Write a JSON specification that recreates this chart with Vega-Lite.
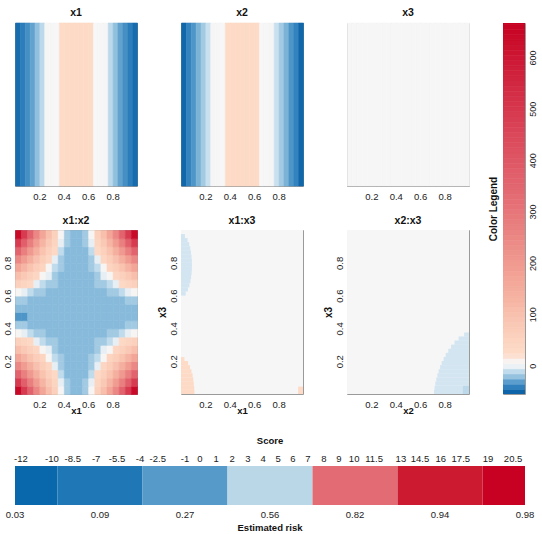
{
"$schema": "https://vega.github.io/schema/vega-lite/v6.json",
"padding": {"left": 1, "top": 7, "right": 0, "bottom": 0},
"background": "white",
"config": {
  "font": "Liberation Sans",
  "view": {"stroke": "#9a9a9a", "strokeWidth": 1},
  "rect": {"binSpacing": 0},
  "axis": {"labelFont": "Liberation Sans", "labelFontSize": 9.5, "labelColor": "#222", "titleFont": "Liberation Sans", "titleColor": "#111", "grid": false, "domain": false, "ticks": false, "tickSize": 0},
  "title": {"font": "Liberation Sans", "fontSize": 10.5, "fontWeight": "bold", "color": "#111", "offset": 4, "anchor": "middle"}
},
"datasets": {
  "m1": [{"x":0,"v":-52},{"x":0.04,"v":-46},{"x":0.08,"v":-40},{"x":0.12,"v":-34},{"x":0.16,"v":-26},{"x":0.2,"v":-16},{"x":0.24,"v":-2},{"x":0.28,"v":0},{"x":0.32,"v":3},{"x":0.36,"v":20},{"x":0.4,"v":23},{"x":0.44,"v":24},{"x":0.48,"v":25},{"x":0.52,"v":24},{"x":0.56,"v":23},{"x":0.6,"v":20},{"x":0.64,"v":3},{"x":0.68,"v":0},{"x":0.72,"v":-2},{"x":0.76,"v":-16},{"x":0.8,"v":-26},{"x":0.84,"v":-34},{"x":0.88,"v":-40},{"x":0.92,"v":-46},{"x":0.96,"v":-52}],
  "m2": [{"x":0,"v":-54},{"x":0.04,"v":-44},{"x":0.08,"v":-38},{"x":0.12,"v":-30},{"x":0.16,"v":-22},{"x":0.2,"v":-13},{"x":0.24,"v":-2},{"x":0.28,"v":0},{"x":0.32,"v":3},{"x":0.36,"v":20},{"x":0.4,"v":23},{"x":0.44,"v":24},{"x":0.48,"v":25},{"x":0.52,"v":24},{"x":0.56,"v":23},{"x":0.6,"v":20},{"x":0.64,"v":3},{"x":0.68,"v":0},{"x":0.72,"v":-2},{"x":0.76,"v":-13},{"x":0.8,"v":-22},{"x":0.84,"v":-30},{"x":0.88,"v":-38},{"x":0.92,"v":-44},{"x":0.96,"v":-54}],
  "m3": [{"x":0,"v":0},{"x":0.04,"v":0},{"x":0.08,"v":0},{"x":0.12,"v":0},{"x":0.16,"v":0},{"x":0.2,"v":0},{"x":0.24,"v":0},{"x":0.28,"v":0},{"x":0.32,"v":0},{"x":0.36,"v":0},{"x":0.4,"v":0},{"x":0.44,"v":0},{"x":0.48,"v":0},{"x":0.52,"v":0},{"x":0.56,"v":0},{"x":0.6,"v":0},{"x":0.64,"v":0},{"x":0.68,"v":0},{"x":0.72,"v":0},{"x":0.76,"v":0},{"x":0.8,"v":0},{"x":0.84,"v":0},{"x":0.88,"v":0},{"x":0.92,"v":0},{"x":0.96,"v":0}],
  "i12": [
{"x":0,"y":0,"v":640},{"x":0.05,"y":0,"v":485},{"x":0.1,"y":0,"v":354},{"x":0.15,"y":0,"v":248},{"x":0.2,"y":0,"v":163},{"x":0.25,"y":0,"v":99},{"x":0.3,"y":0,"v":53},{"x":0.35,"y":0,"v":4},{"x":0.4,"y":0,"v":-22},{"x":0.45,"y":0,"v":-28},{"x":0.5,"y":0,"v":-28},{"x":0.55,"y":0,"v":-22},{"x":0.6,"y":0,"v":4},{"x":0.65,"y":0,"v":53},{"x":0.7,"y":0,"v":99},{"x":0.75,"y":0,"v":163},{"x":0.8,"y":0,"v":248},{"x":0.85,"y":0,"v":354},{"x":0.9,"y":0,"v":485},{"x":0.95,"y":0,"v":640},
{"x":0,"y":0.05,"v":485},{"x":0.05,"y":0.05,"v":367},{"x":0.1,"y":0.05,"v":269},{"x":0.15,"y":0.05,"v":188},{"x":0.2,"y":0.05,"v":124},{"x":0.25,"y":0.05,"v":75},{"x":0.3,"y":0.05,"v":40},{"x":0.35,"y":0.05,"v":-6},{"x":0.4,"y":0.05,"v":-22},{"x":0.45,"y":0.05,"v":-28},{"x":0.5,"y":0.05,"v":-28},{"x":0.55,"y":0.05,"v":-22},{"x":0.6,"y":0.05,"v":-6},{"x":0.65,"y":0.05,"v":40},{"x":0.7,"y":0.05,"v":75},{"x":0.75,"y":0.05,"v":124},{"x":0.8,"y":0.05,"v":188},{"x":0.85,"y":0.05,"v":269},{"x":0.9,"y":0.05,"v":367},{"x":0.95,"y":0.05,"v":485},
{"x":0,"y":0.1,"v":354},{"x":0.05,"y":0.1,"v":269},{"x":0.1,"y":0.1,"v":196},{"x":0.15,"y":0.1,"v":137},{"x":0.2,"y":0.1,"v":90},{"x":0.25,"y":0.1,"v":55},{"x":0.3,"y":0.1,"v":29},{"x":0.35,"y":0.1,"v":-15},{"x":0.4,"y":0.1,"v":-28},{"x":0.45,"y":0.1,"v":-28},{"x":0.5,"y":0.1,"v":-28},{"x":0.55,"y":0.1,"v":-28},{"x":0.6,"y":0.1,"v":-15},{"x":0.65,"y":0.1,"v":29},{"x":0.7,"y":0.1,"v":55},{"x":0.75,"y":0.1,"v":90},{"x":0.8,"y":0.1,"v":137},{"x":0.85,"y":0.1,"v":196},{"x":0.9,"y":0.1,"v":269},{"x":0.95,"y":0.1,"v":354},
{"x":0,"y":0.15,"v":248},{"x":0.05,"y":0.15,"v":188},{"x":0.1,"y":0.15,"v":137},{"x":0.15,"y":0.15,"v":96},{"x":0.2,"y":0.15,"v":63},{"x":0.25,"y":0.15,"v":38},{"x":0.3,"y":0.15,"v":-6},{"x":0.35,"y":0.15,"v":-22},{"x":0.4,"y":0.15,"v":-28},{"x":0.45,"y":0.15,"v":-28},{"x":0.5,"y":0.15,"v":-28},{"x":0.55,"y":0.15,"v":-28},{"x":0.6,"y":0.15,"v":-22},{"x":0.65,"y":0.15,"v":-6},{"x":0.7,"y":0.15,"v":38},{"x":0.75,"y":0.15,"v":63},{"x":0.8,"y":0.15,"v":96},{"x":0.85,"y":0.15,"v":137},{"x":0.9,"y":0.15,"v":188},{"x":0.95,"y":0.15,"v":248},
{"x":0,"y":0.2,"v":163},{"x":0.05,"y":0.2,"v":124},{"x":0.1,"y":0.2,"v":90},{"x":0.15,"y":0.2,"v":63},{"x":0.2,"y":0.2,"v":42},{"x":0.25,"y":0.2,"v":4},{"x":0.3,"y":0.2,"v":-15},{"x":0.35,"y":0.2,"v":-22},{"x":0.4,"y":0.2,"v":-28},{"x":0.45,"y":0.2,"v":-28},{"x":0.5,"y":0.2,"v":-28},{"x":0.55,"y":0.2,"v":-28},{"x":0.6,"y":0.2,"v":-22},{"x":0.65,"y":0.2,"v":-15},{"x":0.7,"y":0.2,"v":4},{"x":0.75,"y":0.2,"v":42},{"x":0.8,"y":0.2,"v":63},{"x":0.85,"y":0.2,"v":90},{"x":0.9,"y":0.2,"v":124},{"x":0.95,"y":0.2,"v":163},
{"x":0,"y":0.25,"v":99},{"x":0.05,"y":0.25,"v":75},{"x":0.1,"y":0.25,"v":55},{"x":0.15,"y":0.25,"v":38},{"x":0.2,"y":0.25,"v":4},{"x":0.25,"y":0.25,"v":-6},{"x":0.3,"y":0.25,"v":-22},{"x":0.35,"y":0.25,"v":-28},{"x":0.4,"y":0.25,"v":-28},{"x":0.45,"y":0.25,"v":-28},{"x":0.5,"y":0.25,"v":-28},{"x":0.55,"y":0.25,"v":-28},{"x":0.6,"y":0.25,"v":-28},{"x":0.65,"y":0.25,"v":-22},{"x":0.7,"y":0.25,"v":-6},{"x":0.75,"y":0.25,"v":4},{"x":0.8,"y":0.25,"v":38},{"x":0.85,"y":0.25,"v":55},{"x":0.9,"y":0.25,"v":75},{"x":0.95,"y":0.25,"v":99},
{"x":0,"y":0.3,"v":53},{"x":0.05,"y":0.3,"v":40},{"x":0.1,"y":0.3,"v":29},{"x":0.15,"y":0.3,"v":-6},{"x":0.2,"y":0.3,"v":-15},{"x":0.25,"y":0.3,"v":-22},{"x":0.3,"y":0.3,"v":-22},{"x":0.35,"y":0.3,"v":-28},{"x":0.4,"y":0.3,"v":-28},{"x":0.45,"y":0.3,"v":-28},{"x":0.5,"y":0.3,"v":-28},{"x":0.55,"y":0.3,"v":-28},{"x":0.6,"y":0.3,"v":-28},{"x":0.65,"y":0.3,"v":-22},{"x":0.7,"y":0.3,"v":-22},{"x":0.75,"y":0.3,"v":-15},{"x":0.8,"y":0.3,"v":-6},{"x":0.85,"y":0.3,"v":29},{"x":0.9,"y":0.3,"v":40},{"x":0.95,"y":0.3,"v":53},
{"x":0,"y":0.35,"v":4},{"x":0.05,"y":0.35,"v":-6},{"x":0.1,"y":0.35,"v":-15},{"x":0.15,"y":0.35,"v":-22},{"x":0.2,"y":0.35,"v":-22},{"x":0.25,"y":0.35,"v":-28},{"x":0.3,"y":0.35,"v":-28},{"x":0.35,"y":0.35,"v":-28},{"x":0.4,"y":0.35,"v":-28},{"x":0.45,"y":0.35,"v":-28},{"x":0.5,"y":0.35,"v":-28},{"x":0.55,"y":0.35,"v":-28},{"x":0.6,"y":0.35,"v":-28},{"x":0.65,"y":0.35,"v":-28},{"x":0.7,"y":0.35,"v":-28},{"x":0.75,"y":0.35,"v":-22},{"x":0.8,"y":0.35,"v":-22},{"x":0.85,"y":0.35,"v":-15},{"x":0.9,"y":0.35,"v":-6},{"x":0.95,"y":0.35,"v":4},
{"x":0,"y":0.4,"v":-22},{"x":0.05,"y":0.4,"v":-22},{"x":0.1,"y":0.4,"v":-28},{"x":0.15,"y":0.4,"v":-28},{"x":0.2,"y":0.4,"v":-28},{"x":0.25,"y":0.4,"v":-28},{"x":0.3,"y":0.4,"v":-28},{"x":0.35,"y":0.4,"v":-28},{"x":0.4,"y":0.4,"v":-28},{"x":0.45,"y":0.4,"v":-28},{"x":0.5,"y":0.4,"v":-28},{"x":0.55,"y":0.4,"v":-28},{"x":0.6,"y":0.4,"v":-28},{"x":0.65,"y":0.4,"v":-28},{"x":0.7,"y":0.4,"v":-28},{"x":0.75,"y":0.4,"v":-28},{"x":0.8,"y":0.4,"v":-28},{"x":0.85,"y":0.4,"v":-28},{"x":0.9,"y":0.4,"v":-22},{"x":0.95,"y":0.4,"v":-22},
{"x":0,"y":0.45,"v":-38},{"x":0.05,"y":0.45,"v":-38},{"x":0.1,"y":0.45,"v":-28},{"x":0.15,"y":0.45,"v":-28},{"x":0.2,"y":0.45,"v":-28},{"x":0.25,"y":0.45,"v":-28},{"x":0.3,"y":0.45,"v":-28},{"x":0.35,"y":0.45,"v":-28},{"x":0.4,"y":0.45,"v":-28},{"x":0.45,"y":0.45,"v":-28},{"x":0.5,"y":0.45,"v":-28},{"x":0.55,"y":0.45,"v":-28},{"x":0.6,"y":0.45,"v":-28},{"x":0.65,"y":0.45,"v":-28},{"x":0.7,"y":0.45,"v":-28},{"x":0.75,"y":0.45,"v":-28},{"x":0.8,"y":0.45,"v":-28},{"x":0.85,"y":0.45,"v":-28},{"x":0.9,"y":0.45,"v":-28},{"x":0.95,"y":0.45,"v":-28},
{"x":0,"y":0.5,"v":-28},{"x":0.05,"y":0.5,"v":-28},{"x":0.1,"y":0.5,"v":-28},{"x":0.15,"y":0.5,"v":-28},{"x":0.2,"y":0.5,"v":-28},{"x":0.25,"y":0.5,"v":-28},{"x":0.3,"y":0.5,"v":-28},{"x":0.35,"y":0.5,"v":-28},{"x":0.4,"y":0.5,"v":-28},{"x":0.45,"y":0.5,"v":-28},{"x":0.5,"y":0.5,"v":-28},{"x":0.55,"y":0.5,"v":-28},{"x":0.6,"y":0.5,"v":-28},{"x":0.65,"y":0.5,"v":-28},{"x":0.7,"y":0.5,"v":-28},{"x":0.75,"y":0.5,"v":-28},{"x":0.8,"y":0.5,"v":-28},{"x":0.85,"y":0.5,"v":-28},{"x":0.9,"y":0.5,"v":-28},{"x":0.95,"y":0.5,"v":-28},
{"x":0,"y":0.55,"v":-22},{"x":0.05,"y":0.55,"v":-22},{"x":0.1,"y":0.55,"v":-28},{"x":0.15,"y":0.55,"v":-28},{"x":0.2,"y":0.55,"v":-28},{"x":0.25,"y":0.55,"v":-28},{"x":0.3,"y":0.55,"v":-28},{"x":0.35,"y":0.55,"v":-28},{"x":0.4,"y":0.55,"v":-28},{"x":0.45,"y":0.55,"v":-28},{"x":0.5,"y":0.55,"v":-28},{"x":0.55,"y":0.55,"v":-28},{"x":0.6,"y":0.55,"v":-28},{"x":0.65,"y":0.55,"v":-28},{"x":0.7,"y":0.55,"v":-28},{"x":0.75,"y":0.55,"v":-28},{"x":0.8,"y":0.55,"v":-28},{"x":0.85,"y":0.55,"v":-28},{"x":0.9,"y":0.55,"v":-22},{"x":0.95,"y":0.55,"v":-22},
{"x":0,"y":0.6,"v":4},{"x":0.05,"y":0.6,"v":-6},{"x":0.1,"y":0.6,"v":-15},{"x":0.15,"y":0.6,"v":-22},{"x":0.2,"y":0.6,"v":-22},{"x":0.25,"y":0.6,"v":-28},{"x":0.3,"y":0.6,"v":-28},{"x":0.35,"y":0.6,"v":-28},{"x":0.4,"y":0.6,"v":-28},{"x":0.45,"y":0.6,"v":-28},{"x":0.5,"y":0.6,"v":-28},{"x":0.55,"y":0.6,"v":-28},{"x":0.6,"y":0.6,"v":-28},{"x":0.65,"y":0.6,"v":-28},{"x":0.7,"y":0.6,"v":-28},{"x":0.75,"y":0.6,"v":-22},{"x":0.8,"y":0.6,"v":-22},{"x":0.85,"y":0.6,"v":-15},{"x":0.9,"y":0.6,"v":-6},{"x":0.95,"y":0.6,"v":4},
{"x":0,"y":0.65,"v":53},{"x":0.05,"y":0.65,"v":40},{"x":0.1,"y":0.65,"v":29},{"x":0.15,"y":0.65,"v":-6},{"x":0.2,"y":0.65,"v":-15},{"x":0.25,"y":0.65,"v":-22},{"x":0.3,"y":0.65,"v":-22},{"x":0.35,"y":0.65,"v":-28},{"x":0.4,"y":0.65,"v":-28},{"x":0.45,"y":0.65,"v":-28},{"x":0.5,"y":0.65,"v":-28},{"x":0.55,"y":0.65,"v":-28},{"x":0.6,"y":0.65,"v":-28},{"x":0.65,"y":0.65,"v":-22},{"x":0.7,"y":0.65,"v":-22},{"x":0.75,"y":0.65,"v":-15},{"x":0.8,"y":0.65,"v":-6},{"x":0.85,"y":0.65,"v":29},{"x":0.9,"y":0.65,"v":40},{"x":0.95,"y":0.65,"v":53},
{"x":0,"y":0.7,"v":99},{"x":0.05,"y":0.7,"v":75},{"x":0.1,"y":0.7,"v":55},{"x":0.15,"y":0.7,"v":38},{"x":0.2,"y":0.7,"v":4},{"x":0.25,"y":0.7,"v":-6},{"x":0.3,"y":0.7,"v":-22},{"x":0.35,"y":0.7,"v":-28},{"x":0.4,"y":0.7,"v":-28},{"x":0.45,"y":0.7,"v":-28},{"x":0.5,"y":0.7,"v":-28},{"x":0.55,"y":0.7,"v":-28},{"x":0.6,"y":0.7,"v":-28},{"x":0.65,"y":0.7,"v":-22},{"x":0.7,"y":0.7,"v":-6},{"x":0.75,"y":0.7,"v":4},{"x":0.8,"y":0.7,"v":38},{"x":0.85,"y":0.7,"v":55},{"x":0.9,"y":0.7,"v":75},{"x":0.95,"y":0.7,"v":99},
{"x":0,"y":0.75,"v":163},{"x":0.05,"y":0.75,"v":124},{"x":0.1,"y":0.75,"v":90},{"x":0.15,"y":0.75,"v":63},{"x":0.2,"y":0.75,"v":42},{"x":0.25,"y":0.75,"v":4},{"x":0.3,"y":0.75,"v":-15},{"x":0.35,"y":0.75,"v":-22},{"x":0.4,"y":0.75,"v":-28},{"x":0.45,"y":0.75,"v":-28},{"x":0.5,"y":0.75,"v":-28},{"x":0.55,"y":0.75,"v":-28},{"x":0.6,"y":0.75,"v":-22},{"x":0.65,"y":0.75,"v":-15},{"x":0.7,"y":0.75,"v":4},{"x":0.75,"y":0.75,"v":42},{"x":0.8,"y":0.75,"v":63},{"x":0.85,"y":0.75,"v":90},{"x":0.9,"y":0.75,"v":124},{"x":0.95,"y":0.75,"v":163},
{"x":0,"y":0.8,"v":248},{"x":0.05,"y":0.8,"v":188},{"x":0.1,"y":0.8,"v":137},{"x":0.15,"y":0.8,"v":96},{"x":0.2,"y":0.8,"v":63},{"x":0.25,"y":0.8,"v":38},{"x":0.3,"y":0.8,"v":-6},{"x":0.35,"y":0.8,"v":-22},{"x":0.4,"y":0.8,"v":-28},{"x":0.45,"y":0.8,"v":-28},{"x":0.5,"y":0.8,"v":-28},{"x":0.55,"y":0.8,"v":-28},{"x":0.6,"y":0.8,"v":-22},{"x":0.65,"y":0.8,"v":-6},{"x":0.7,"y":0.8,"v":38},{"x":0.75,"y":0.8,"v":63},{"x":0.8,"y":0.8,"v":96},{"x":0.85,"y":0.8,"v":137},{"x":0.9,"y":0.8,"v":188},{"x":0.95,"y":0.8,"v":248},
{"x":0,"y":0.85,"v":354},{"x":0.05,"y":0.85,"v":269},{"x":0.1,"y":0.85,"v":196},{"x":0.15,"y":0.85,"v":137},{"x":0.2,"y":0.85,"v":90},{"x":0.25,"y":0.85,"v":55},{"x":0.3,"y":0.85,"v":29},{"x":0.35,"y":0.85,"v":-15},{"x":0.4,"y":0.85,"v":-28},{"x":0.45,"y":0.85,"v":-28},{"x":0.5,"y":0.85,"v":-28},{"x":0.55,"y":0.85,"v":-28},{"x":0.6,"y":0.85,"v":-15},{"x":0.65,"y":0.85,"v":29},{"x":0.7,"y":0.85,"v":55},{"x":0.75,"y":0.85,"v":90},{"x":0.8,"y":0.85,"v":137},{"x":0.85,"y":0.85,"v":196},{"x":0.9,"y":0.85,"v":269},{"x":0.95,"y":0.85,"v":354},
{"x":0,"y":0.9,"v":485},{"x":0.05,"y":0.9,"v":367},{"x":0.1,"y":0.9,"v":269},{"x":0.15,"y":0.9,"v":188},{"x":0.2,"y":0.9,"v":124},{"x":0.25,"y":0.9,"v":75},{"x":0.3,"y":0.9,"v":40},{"x":0.35,"y":0.9,"v":-6},{"x":0.4,"y":0.9,"v":-22},{"x":0.45,"y":0.9,"v":-28},{"x":0.5,"y":0.9,"v":-28},{"x":0.55,"y":0.9,"v":-22},{"x":0.6,"y":0.9,"v":-6},{"x":0.65,"y":0.9,"v":40},{"x":0.7,"y":0.9,"v":75},{"x":0.75,"y":0.9,"v":124},{"x":0.8,"y":0.9,"v":188},{"x":0.85,"y":0.9,"v":269},{"x":0.9,"y":0.9,"v":367},{"x":0.95,"y":0.9,"v":485},
{"x":0,"y":0.95,"v":640},{"x":0.05,"y":0.95,"v":485},{"x":0.1,"y":0.95,"v":354},{"x":0.15,"y":0.95,"v":248},{"x":0.2,"y":0.95,"v":163},{"x":0.25,"y":0.95,"v":99},{"x":0.3,"y":0.95,"v":53},{"x":0.35,"y":0.95,"v":4},{"x":0.4,"y":0.95,"v":-22},{"x":0.45,"y":0.95,"v":-28},{"x":0.5,"y":0.95,"v":-28},{"x":0.55,"y":0.95,"v":-22},{"x":0.6,"y":0.95,"v":4},{"x":0.65,"y":0.95,"v":53},{"x":0.7,"y":0.95,"v":99},{"x":0.75,"y":0.95,"v":163},{"x":0.8,"y":0.95,"v":248},{"x":0.85,"y":0.95,"v":354},{"x":0.9,"y":0.95,"v":485},{"x":0.95,"y":0.95,"v":640}
  ],
  "i13": [
{"x0":0,"x1":1,"y0":0,"y1":1,"v":0},
{"x0":0,"x1":0.038,"y0":0.6,"y1":0.626,"v":-11},{"x0":0,"x1":0.057,"y0":0.625,"y1":0.651,"v":-11},{"x0":0,"x1":0.069,"y0":0.65,"y1":0.676,"v":-11},{"x0":0,"x1":0.077,"y0":0.675,"y1":0.701,"v":-11},{"x0":0,"x1":0.083,"y0":0.7,"y1":0.726,"v":-11},{"x0":0,"x1":0.087,"y0":0.725,"y1":0.751,"v":-11},{"x0":0,"x1":0.089,"y0":0.75,"y1":0.776,"v":-11},{"x0":0,"x1":0.09,"y0":0.775,"y1":0.801,"v":-11},{"x0":0,"x1":0.089,"y0":0.8,"y1":0.826,"v":-11},{"x0":0,"x1":0.086,"y0":0.825,"y1":0.851,"v":-11},{"x0":0,"x1":0.082,"y0":0.85,"y1":0.876,"v":-11},{"x0":0,"x1":0.076,"y0":0.875,"y1":0.901,"v":-11},{"x0":0,"x1":0.067,"y0":0.9,"y1":0.926,"v":-11},{"x0":0,"x1":0.054,"y0":0.925,"y1":0.951,"v":-11},{"x0":0,"x1":0.032,"y0":0.95,"y1":0.975,"v":-11},
{"x0":0,"x1":0.11,"y0":0,"y1":0.026,"v":24},{"x0":0,"x1":0.108,"y0":0.025,"y1":0.051,"v":23},{"x0":0,"x1":0.105,"y0":0.05,"y1":0.076,"v":22},{"x0":0,"x1":0.101,"y0":0.075,"y1":0.101,"v":22},{"x0":0,"x1":0.095,"y0":0.1,"y1":0.126,"v":22},{"x0":0,"x1":0.086,"y0":0.125,"y1":0.151,"v":21},{"x0":0,"x1":0.074,"y0":0.15,"y1":0.176,"v":20},{"x0":0,"x1":0.058,"y0":0.175,"y1":0.201,"v":20},{"x0":0,"x1":0.028,"y0":0.2,"y1":0.225,"v":19},
{"x0":0.96,"x1":1,"y0":0,"y1":0.045,"v":21}
  ],
  "i23": [
{"x0":0,"x1":1,"y0":0,"y1":1,"v":0},
{"x0":0.713,"x1":1,"y0":0,"y1":0.026,"v":-11},{"x0":0.718,"x1":1,"y0":0.025,"y1":0.051,"v":-11},{"x0":0.724,"x1":1,"y0":0.05,"y1":0.076,"v":-11},{"x0":0.732,"x1":1,"y0":0.075,"y1":0.101,"v":-11},{"x0":0.741,"x1":1,"y0":0.1,"y1":0.126,"v":-11},{"x0":0.751,"x1":1,"y0":0.125,"y1":0.151,"v":-11},{"x0":0.763,"x1":1,"y0":0.15,"y1":0.176,"v":-11},{"x0":0.776,"x1":1,"y0":0.175,"y1":0.201,"v":-11},{"x0":0.792,"x1":1,"y0":0.2,"y1":0.226,"v":-11},{"x0":0.809,"x1":1,"y0":0.225,"y1":0.251,"v":-11},{"x0":0.83,"x1":1,"y0":0.25,"y1":0.276,"v":-11},{"x0":0.853,"x1":1,"y0":0.275,"y1":0.301,"v":-11},{"x0":0.881,"x1":1,"y0":0.3,"y1":0.326,"v":-11},{"x0":0.915,"x1":1,"y0":0.325,"y1":0.351,"v":-11},{"x0":0.96,"x1":1,"y0":0.35,"y1":0.375,"v":-11},
{"x0":0.95,"x1":1,"y0":0,"y1":0.05,"v":-16}
  ],
  "leg": [{"v":-55},{"v":-45},{"v":-35},{"v":-25},{"v":-15},{"v":-5},{"v":5},{"v":15},{"v":25},{"v":35},{"v":45},{"v":55},{"v":65},{"v":75},{"v":85},{"v":95},{"v":105},{"v":115},{"v":125},{"v":135},{"v":145},{"v":155},{"v":165},{"v":175},{"v":185},{"v":195},{"v":205},{"v":215},{"v":225},{"v":235},{"v":245},{"v":255},{"v":265},{"v":275},{"v":285},{"v":295},{"v":305},{"v":315},{"v":325},{"v":335},{"v":345},{"v":355},{"v":365},{"v":375},{"v":385},{"v":395},{"v":405},{"v":415},{"v":425},{"v":435},{"v":445},{"v":455},{"v":465},{"v":475},{"v":485},{"v":495},{"v":505},{"v":515},{"v":525},{"v":535},{"v":545},{"v":555},{"v":565},{"v":575},{"v":585},{"v":595},{"v":605},{"v":615},{"v":625},{"v":635},{"v":645},{"v":655},{"v":665}],
  "band": [{"k":1,"t0":0,"t1":1},{"k":2,"t0":1,"t1":3},{"k":3,"t0":3,"t1":5},{"k":4,"t0":5,"t1":7},{"k":5,"t0":7,"t1":9},{"k":6,"t0":9,"t1":11},{"k":7,"t0":11,"t1":12}],
  "score": [{"s":"-12","t":0.14},{"s":"-10","t":0.87},{"s":"-8.5","t":1.36},{"s":"-7","t":1.91},{"s":"-5.5","t":2.4},{"s":"-4","t":2.94},{"s":"-2.5","t":3.36},{"s":"-1","t":4.0},{"s":"0","t":4.35},{"s":"1","t":4.73},{"s":"2","t":5.11},{"s":"3","t":5.48},{"s":"4","t":5.84},{"s":"5","t":6.19},{"s":"6","t":6.54},{"s":"7","t":6.89},{"s":"8","t":7.27},{"s":"9","t":7.62},{"s":"10","t":7.98},{"s":"11.5","t":8.45},{"s":"13","t":9.08},{"s":"14.5","t":9.53},{"s":"16","t":10.02},{"s":"17.5","t":10.49},{"s":"19","t":11.13},{"s":"20.5","t":11.72}],
  "risk": [{"r":"0.03","t":0},{"r":"0.09","t":2},{"r":"0.27","t":4},{"r":"0.56","t":6},{"r":"0.82","t":8},{"r":"0.94","t":10},{"r":"0.98","t":12}]
},
"vconcat": [
  {
    "hconcat": [
      {
        "vconcat": [
          {
            "hconcat": [
              {"width":122,"height":163,"title":"x1","data":{"name":"m1"},"mark":{"type":"rect","binSpacing":0,"strokeWidth":0.6},
               "encoding":{"x":{"field":"x","type":"quantitative","bin":{"binned":true,"step":0.04},"scale":{"domain":[0,1],"nice":false,"zero":false},"axis":{"values":[0.2,0.4,0.6,0.8],"format":".1f","labelPadding":5,"title":null}},
                 "color":{"field":"v","type":"quantitative","scale":{"type":"linear","domain":[-55,-45,-35,-28,-18,-10,-3,3,12,20,60,150,300,450,667],"range":["#0d64a8","#2f80bd","#5b9ecd","#88bbdb","#b3d4e9","#d6e7f2","#f4f5f6","#f7f7f7","#fbe5da","#fddbc7","#fbcfbb","#f4aa9a","#e67478","#da4659","#c60021"],"interpolate":"rgb","clamp":true},"legend":null},
                 "stroke":{"field":"v","type":"quantitative","scale":{"type":"linear","domain":[-55,-45,-35,-28,-18,-10,-3,3,12,20,60,150,300,450,667],"range":["#0d64a8","#2f80bd","#5b9ecd","#88bbdb","#b3d4e9","#d6e7f2","#f4f5f6","#f7f7f7","#fbe5da","#fddbc7","#fbcfbb","#f4aa9a","#e67478","#da4659","#c60021"],"interpolate":"rgb","clamp":true},"legend":null}}},
              {"width":122,"height":163,"title":"x2","data":{"name":"m2"},"mark":{"type":"rect","binSpacing":0,"strokeWidth":0.6},
               "encoding":{"x":{"field":"x","type":"quantitative","bin":{"binned":true,"step":0.04},"scale":{"domain":[0,1],"nice":false,"zero":false},"axis":{"values":[0.2,0.4,0.6,0.8],"format":".1f","labelPadding":5,"title":null}},
                 "color":{"field":"v","type":"quantitative","scale":{"type":"linear","domain":[-55,-45,-35,-28,-18,-10,-3,3,12,20,60,150,300,450,667],"range":["#0d64a8","#2f80bd","#5b9ecd","#88bbdb","#b3d4e9","#d6e7f2","#f4f5f6","#f7f7f7","#fbe5da","#fddbc7","#fbcfbb","#f4aa9a","#e67478","#da4659","#c60021"],"interpolate":"rgb","clamp":true},"legend":null},
                 "stroke":{"field":"v","type":"quantitative","scale":{"type":"linear","domain":[-55,-45,-35,-28,-18,-10,-3,3,12,20,60,150,300,450,667],"range":["#0d64a8","#2f80bd","#5b9ecd","#88bbdb","#b3d4e9","#d6e7f2","#f4f5f6","#f7f7f7","#fbe5da","#fddbc7","#fbcfbb","#f4aa9a","#e67478","#da4659","#c60021"],"interpolate":"rgb","clamp":true},"legend":null}}},
              {"width":122,"height":163,"title":"x3","data":{"name":"m3"},"mark":{"type":"rect","binSpacing":0,"strokeWidth":0.6},
               "encoding":{"x":{"field":"x","type":"quantitative","bin":{"binned":true,"step":0.04},"scale":{"domain":[0,1],"nice":false,"zero":false},"axis":{"values":[0.2,0.4,0.6,0.8],"format":".1f","labelPadding":5,"title":null}},
                 "color":{"field":"v","type":"quantitative","scale":{"type":"linear","domain":[-55,-45,-35,-28,-18,-10,-3,3,12,20,60,150,300,450,667],"range":["#0d64a8","#2f80bd","#5b9ecd","#88bbdb","#b3d4e9","#d6e7f2","#f4f5f6","#f7f7f7","#fbe5da","#fddbc7","#fbcfbb","#f4aa9a","#e67478","#da4659","#c60021"],"interpolate":"rgb","clamp":true},"legend":null},
                 "stroke":{"field":"v","type":"quantitative","scale":{"type":"linear","domain":[-55,-45,-35,-28,-18,-10,-3,3,12,20,60,150,300,450,667],"range":["#0d64a8","#2f80bd","#5b9ecd","#88bbdb","#b3d4e9","#d6e7f2","#f4f5f6","#f7f7f7","#fbe5da","#fddbc7","#fbcfbb","#f4aa9a","#e67478","#da4659","#c60021"],"interpolate":"rgb","clamp":true},"legend":null}}}
            ],
            "spacing": 44, "bounds": "flush", "resolve": {"scale": {"color": "independent", "stroke": "independent"}}
          },
          {
            "hconcat": [
              {"width":122,"height":164,"title":"x1:x2","data":{"name":"i12"},"mark":{"type":"rect","binSpacing":0,"strokeWidth":0.6},
               "encoding":{
                 "x":{"field":"x","type":"quantitative","bin":{"binned":true,"step":0.05},"scale":{"domain":[0,1],"nice":false,"zero":false},"axis":{"values":[0.2,0.4,0.6,0.8],"format":".1f","labelPadding":5,"title":"x1","titleY":11,"titleBaseline":"top","titleFontSize":9.5,"titleFontWeight":"bold"}},
                 "y":{"field":"y","type":"quantitative","bin":{"binned":true,"step":0.05},"scale":{"domain":[0,1],"nice":false,"zero":false},"axis":{"values":[0.2,0.4,0.6,0.8],"format":".1f","labelAngle":270,"labelAlign":"center","labelBaseline":"bottom","labelPadding":3,"title":null}},
                 "color":{"field":"v","type":"quantitative","scale":{"type":"linear","domain":[-55,-45,-35,-28,-18,-10,-3,3,12,20,60,150,300,450,667],"range":["#0d64a8","#2f80bd","#5b9ecd","#88bbdb","#b3d4e9","#d6e7f2","#f4f5f6","#f7f7f7","#fbe5da","#fddbc7","#fbcfbb","#f4aa9a","#e67478","#da4659","#c60021"],"interpolate":"rgb","clamp":true},"legend":null},
                 "stroke":{"field":"v","type":"quantitative","scale":{"type":"linear","domain":[-55,-45,-35,-28,-18,-10,-3,3,12,20,60,150,300,450,667],"range":["#0d64a8","#2f80bd","#5b9ecd","#88bbdb","#b3d4e9","#d6e7f2","#f4f5f6","#f7f7f7","#fbe5da","#fddbc7","#fbcfbb","#f4aa9a","#e67478","#da4659","#c60021"],"interpolate":"rgb","clamp":true},"legend":null}}},
              {"width":122,"height":164,"title":"x1:x3","data":{"name":"i13"},"mark":{"type":"rect"},
               "encoding":{
                 "x":{"field":"x0","type":"quantitative","scale":{"domain":[0,1],"nice":false,"zero":false},"axis":{"values":[0.2,0.4,0.6,0.8],"format":".1f","labelPadding":5,"title":"x1","titleY":11,"titleBaseline":"top","titleFontSize":9.5,"titleFontWeight":"bold"}},
                 "x2":{"field":"x1"},
                 "y":{"field":"y0","type":"quantitative","scale":{"domain":[0,1],"nice":false,"zero":false},"axis":{"values":[0.2,0.4,0.6,0.8],"format":".1f","labelAngle":270,"labelAlign":"center","labelBaseline":"bottom","labelPadding":3,"title":"x3","titlePadding":1,"titleFontSize":10,"titleFontWeight":"bold"}},
                 "y2":{"field":"y1"},
                 "color":{"field":"v","type":"quantitative","scale":{"type":"linear","domain":[-55,-45,-35,-28,-18,-10,-3,3,12,20,60,150,300,450,667],"range":["#0d64a8","#2f80bd","#5b9ecd","#88bbdb","#b3d4e9","#d6e7f2","#f4f5f6","#f7f7f7","#fbe5da","#fddbc7","#fbcfbb","#f4aa9a","#e67478","#da4659","#c60021"],"interpolate":"rgb","clamp":true},"legend":null}}},
              {"width":122,"height":164,"title":"x2:x3","data":{"name":"i23"},"mark":{"type":"rect"},
               "encoding":{
                 "x":{"field":"x0","type":"quantitative","scale":{"domain":[0,1],"nice":false,"zero":false},"axis":{"values":[0.2,0.4,0.6,0.8],"format":".1f","labelPadding":5,"title":"x2","titleY":11,"titleBaseline":"top","titleFontSize":9.5,"titleFontWeight":"bold"}},
                 "x2":{"field":"x1"},
                 "y":{"field":"y0","type":"quantitative","scale":{"domain":[0,1],"nice":false,"zero":false},"axis":{"values":[0.2,0.4,0.6,0.8],"format":".1f","labelAngle":270,"labelAlign":"center","labelBaseline":"bottom","labelPadding":3,"title":"x3","titlePadding":1,"titleFontSize":10,"titleFontWeight":"bold"}},
                 "y2":{"field":"y1"},
                 "color":{"field":"v","type":"quantitative","scale":{"type":"linear","domain":[-55,-45,-35,-28,-18,-10,-3,3,12,20,60,150,300,450,667],"range":["#0d64a8","#2f80bd","#5b9ecd","#88bbdb","#b3d4e9","#d6e7f2","#f4f5f6","#f7f7f7","#fbe5da","#fddbc7","#fbcfbb","#f4aa9a","#e67478","#da4659","#c60021"],"interpolate":"rgb","clamp":true},"legend":null}}}
            ],
            "spacing": 44, "bounds": "flush", "resolve": {"scale": {"color": "independent", "stroke": "independent"}}
          }
        ],
        "spacing": 207, "bounds": "flush", "resolve": {"scale": {"color": "independent", "stroke": "independent"}}
      },
      {"width":22,"height":371,"data":{"name":"leg"},"mark":{"type":"rect","clip":true,"binSpacing":0,"strokeWidth":0.6},
       "encoding":{
         "y":{"field":"v","type":"quantitative","bin":{"binned":true,"step":10},"scale":{"domain":[-55,667],"nice":false,"zero":false},
              "axis":{"orient":"right","values":[0,100,200,300,400,500,600],"format":"d","labelAngle":270,"labelAlign":"center","labelBaseline":"top","labelPadding":3,"labelFontSize":9,
                      "title":"Color Legend","titleAngle":270,"titleX":-27,"titleY":185.5,"titleAlign":"center","titleBaseline":"bottom","titleFontSize":10,"titleFontWeight":"bold"}},
         "color":{"field":"v","type":"quantitative","scale":{"type":"linear","domain":[-55,-45,-35,-28,-18,-10,-3,3,12,20,60,150,300,450,667],"range":["#0d64a8","#2f80bd","#5b9ecd","#88bbdb","#b3d4e9","#d6e7f2","#f4f5f6","#f7f7f7","#fbe5da","#fddbc7","#fbcfbb","#f4aa9a","#e67478","#da4659","#c60021"],"interpolate":"rgb","clamp":true},"legend":null},
         "stroke":{"field":"v","type":"quantitative","scale":{"type":"linear","domain":[-55,-45,-35,-28,-18,-10,-3,3,12,20,60,150,300,450,667],"range":["#0d64a8","#2f80bd","#5b9ecd","#88bbdb","#b3d4e9","#d6e7f2","#f4f5f6","#f7f7f7","#fbe5da","#fddbc7","#fbcfbb","#f4aa9a","#e67478","#da4659","#c60021"],"interpolate":"rgb","clamp":true},"legend":null}}}
    ],
    "spacing": 488, "bounds": "flush", "resolve": {"scale": {"color": "independent", "stroke": "independent"}}
  },
  {
    "vconcat": [
      {"width":510,"height":14,"view":{"stroke":null},"title":{"text":"Score","fontSize":9.5,"offset":7},"data":{"name":"score"},
       "mark":{"type":"text","fontSize":9.5,"font":"Liberation Sans","color":"#222","baseline":"middle"},
       "encoding":{"x":{"field":"t","type":"quantitative","scale":{"domain":[0,12],"nice":false,"zero":false},"axis":null},"text":{"field":"s"}}},
      {"width":510,"height":39,"view":{"stroke":null},"data":{"name":"band"},"mark":{"type":"rect"},
       "encoding":{"x":{"field":"t0","type":"quantitative","scale":{"domain":[0,12],"nice":false,"zero":false},"axis":null},"x2":{"field":"t1"},
         "fill":{"field":"k","type":"ordinal","scale":{"domain":[1,2,3,4,5,6,7],"range":["#0868ab","#1f77b5","#559ac8","#b9d7e6","#e36b73","#cc1b30","#c80022"]},"legend":null}}},
      {"width":510,"height":19,"view":{"stroke":null},"title":{"text":"Estimated risk","orient":"bottom","fontSize":9.5,"offset":-1},"data":{"name":"risk"},
       "mark":{"type":"text","fontSize":9.5,"font":"Liberation Sans","color":"#222","baseline":"middle"},
       "encoding":{"x":{"field":"t","type":"quantitative","scale":{"domain":[0,12],"nice":false,"zero":false},"axis":null},"text":{"field":"r"}}}
    ],
    "spacing": 0, "bounds": "flush"
  }
],
"spacing": 429, "bounds": "flush"
}
